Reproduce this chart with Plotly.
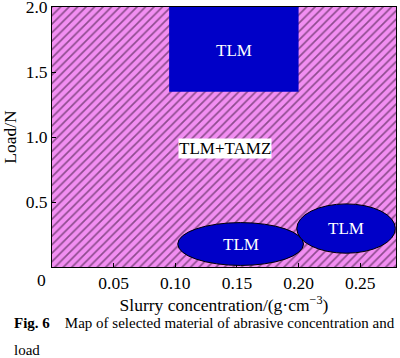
import plotly.graph_objects as go

# Region map data
x_range = [0, 0.279]
y_range = [0, 2.002]
x_ticks = [0.05, 0.10, 0.15, 0.20, 0.25]
x_tick_labels = ["0.05", "0.10", "0.15", "0.20", "0.25"]
y_ticks = [0.5, 1.0, 1.5, 2.0]
y_tick_labels = ["0.5", "1.0", "1.5", "2.0"]

# TLM rectangle (upper) : [x0, x1, y0, y1]
rect_tlm = [0.095, 0.200, 1.35, 2.002]
# TLM ellipses: center x, center y, half width, half height
ell_cx = [0.153, 0.2385]
ell_cy = [0.177, 0.296]
ell_rx = [0.051, 0.040]
ell_ry = [0.165, 0.190]

FONT = "Liberation Serif, Times New Roman, serif"
PINK = "#f28ef2"
BLUE = "#0000c8"

fig = go.Figure()
fig.add_trace(go.Scatter(
    x=[x_range[0], x_range[1], x_range[1], x_range[0], x_range[0]],
    y=[y_range[0], y_range[0], y_range[1], y_range[1], y_range[0]],
    mode="lines", line=dict(width=0), fill="toself",
    fillcolor=PINK,
    fillpattern=dict(shape="/", bgcolor=PINK, fgcolor="#2a0a2a",
                     size=6, solidity=0.28),
    hoverinfo="skip", showlegend=False))

fig.add_shape(type="rect", x0=rect_tlm[0], x1=rect_tlm[1], y0=rect_tlm[2], y1=rect_tlm[3],
              fillcolor=BLUE, line=dict(width=0), layer="above")
for cx, cy, rx, ry in zip(ell_cx, ell_cy, ell_rx, ell_ry):
    fig.add_shape(type="circle", x0=cx - rx, x1=cx + rx, y0=cy - ry, y1=cy + ry,
                  fillcolor=BLUE, line=dict(color="black", width=1), layer="above")

fig.add_annotation(x=(rect_tlm[0] + rect_tlm[1]) / 2, y=1.67, text="TLM", showarrow=False,
                   font=dict(family=FONT, size=17, color="white"))
for cx, cy in zip(ell_cx, ell_cy):
    fig.add_annotation(x=cx, y=cy, text="TLM", showarrow=False,
                       font=dict(family=FONT, size=17, color="white"))
fig.add_annotation(x=0.1405, y=0.915, text="TLM+TAMZ", showarrow=False,
                   bgcolor="white", borderpad=0,
                   font=dict(family=FONT, size=17, color="black"))

# shared origin label
fig.add_annotation(xref="paper", yref="paper", x=0, y=0, text="0", showarrow=False,
                   xanchor="right", yanchor="top", xshift=-4, yshift=-1,
                   font=dict(family=FONT, size=17.5, color="black"))

# caption
fig.add_annotation(xref="paper", yref="paper", x=-0.116, y=-0.215, xanchor="left", yanchor="middle",
                   text="<b>Fig. 6</b>&nbsp;&nbsp;&nbsp;&nbsp;Map of selected material of abrasive concentration and",
                   showarrow=False, font=dict(family=FONT, size=15, color="black"))
fig.add_annotation(xref="paper", yref="paper", x=-0.116, y=-0.319, xanchor="left", yanchor="middle",
                   text="load", showarrow=False, font=dict(family=FONT, size=15, color="black"))

fig.update_xaxes(range=x_range, tickvals=x_ticks, ticktext=x_tick_labels,
                 ticks="inside", ticklen=4, tickcolor="black", automargin=False,
                 ticklabeloverflow="allow",
                 showline=True, linecolor="black", linewidth=1, mirror=True,
                 showgrid=False, zeroline=False,
                 tickfont=dict(family=FONT, size=17.5, color="black"),
                 title=dict(text="Slurry concentration/(g·cm<sup>−3</sup>)", standoff=2,
                            font=dict(family=FONT, size=17.5, color="black")))
fig.update_yaxes(range=y_range, tickvals=y_ticks, ticktext=y_tick_labels,
                 ticks="inside", ticklen=4, tickcolor="black", automargin=False,
                 ticklabeloverflow="allow",
                 showline=True, linecolor="black", linewidth=1, mirror=True,
                 showgrid=False, zeroline=False,
                 tickfont=dict(family=FONT, size=17.5, color="black"),
                 title=dict(text="Load/N", standoff=4,
                            font=dict(family=FONT, size=17.5, color="black")))

fig.update_layout(width=400, height=358, margin=dict(l=52, r=4, t=7, b=91),
                  plot_bgcolor="white", paper_bgcolor="white", showlegend=False)

fig.write_html("out.html", config={"displayModeBar": False},
               post_script="document.body.style.margin='0';document.body.style.overflow='hidden';")
